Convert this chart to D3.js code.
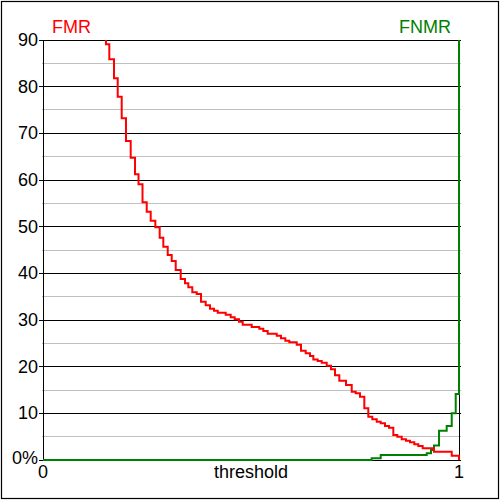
<!DOCTYPE html>
<html>
<head>
<meta charset="utf-8">
<script src="https://cdn.jsdelivr.net/npm/d3@7"></script>
<style>
  html, body { margin: 0; padding: 0; background: #fff; }
  svg { display: block; }
  text { font-family: "Liberation Sans", Arial, sans-serif; }
</style>
</head>
<body>
<svg id="chart" width="500" height="500"></svg>
<script>
// ---- data ----
const fmrThreshold = [0, 0.1514, 0.1594, 0.1707, 0.1796, 0.1892, 0.1995, 0.2108, 0.2212, 0.2296, 0.2392,
  0.2493, 0.2589, 0.2700, 0.2805, 0.2892, 0.2998, 0.3094, 0.3190, 0.3310, 0.3413, 0.3493, 0.3589, 0.3695,
  0.3798, 0.3911, 0.4014, 0.4111, 0.4200, 0.4392, 0.4512, 0.4608, 0.4712, 0.4800, 0.5017, 0.5200, 0.5296,
  0.5401, 0.5618, 0.5721, 0.5825, 0.5921, 0.6099, 0.6202, 0.6315, 0.6418, 0.6498, 0.6603, 0.6700, 0.6820,
  0.6923, 0.7019, 0.7123, 0.7284, 0.7421, 0.7517, 0.7620, 0.7724, 0.7820, 0.7916, 0.8022, 0.8118, 0.8221,
  0.8317, 0.8421, 0.8517, 0.8623, 0.8726, 0.8822, 0.8925, 0.9022, 0.9127, 0.9399, 0.9825, 1.0];
const fmrValues = [100, 89.08, 85.86, 81.79, 77.85, 73.22, 68.36, 64.78, 61.22, 59.08, 55.22,
  53.21, 51.28, 49.86, 47.64, 45.71, 43.93, 42.64, 40.71, 38.79, 37.86, 37.01, 35.94, 35.57,
  33.92, 33.15, 32.42, 31.99, 31.56, 31.14, 30.58, 30.15, 29.64, 28.99, 28.50, 28.14, 27.64,
  27.06, 26.64, 26.08, 25.56, 25.22, 24.71, 23.42, 22.86, 22.29, 21.54, 21.21, 20.85, 20.21,
  19.44, 18.15, 16.99, 16.07, 14.64, 14.29, 13.56, 11.08, 9.28, 8.72, 8.21, 7.86, 7.29,
  6.92, 5.36, 4.99, 4.44, 4.14, 3.79, 3.36, 3.00, 2.51, 1.78, 0.92, 0];

const fnmrThreshold = [0, 0.7901, 0.8118, 0.9224, 0.9327, 0.9399, 0.9519, 0.9704, 0.9825, 0.9921, 1.0];
const fnmrValues = [0, 0.36, 1.07, 1.44, 2.14, 3.11, 6.28, 7.29, 10.0, 14.14, 100];

const majorTicks = [0, 10, 20, 30, 40, 50, 60, 70, 80, 90];
const majorTickLabels = ["0%", "10", "20", "30", "40", "50", "60", "70", "80", "90"];
const minorTicks = [5, 15, 25, 35, 45, 55, 65, 75, 85];
const xTicks = [0, 1];
const xTickLabels = ["0", "1"];
const xTitle = "threshold";
const seriesNames = ["FMR", "FNMR"];

// ---- layout ----
const svg = d3.select("#chart");
const pLeft = 43, pRight = 459, pTop = 40, pBottom = 460;
const x = d3.scaleLinear().domain([0, 1]).range([pLeft, pRight]);
const y = d3.scaleLinear().domain([0, 90]).range([pBottom, pTop]);
const crisp = v => Math.floor(v) + 0.5;
const fs = 18;

// outer border
svg.append("rect").attr("x", 1.5).attr("y", 1.5).attr("width", 497).attr("height", 497)
  .attr("fill", "none").attr("stroke", "#000").attr("stroke-width", 1.2);

// minor grid
svg.append("g").selectAll("line").data(minorTicks).join("line")
  .attr("x1", pLeft - 1).attr("x2", pRight + 2)
  .attr("y1", d => crisp(y(d))).attr("y2", d => crisp(y(d)))
  .attr("stroke", "#c0c0c0").attr("stroke-width", 1);

// major grid
svg.append("g").selectAll("line").data(majorTicks).join("line")
  .attr("x1", pLeft - 4).attr("x2", pRight + 2)
  .attr("y1", d => crisp(y(d))).attr("y2", d => crisp(y(d)))
  .attr("stroke", "#000").attr("stroke-width", 1);

// frame sides
svg.append("line").attr("x1", crisp(pLeft)).attr("x2", crisp(pLeft))
  .attr("y1", pTop).attr("y2", pBottom + 1).attr("stroke", "#000");
svg.append("line").attr("x1", pRight + 0.5).attr("x2", pRight + 0.5)
  .attr("y1", pTop).attr("y2", pBottom + 1).attr("stroke", "#000");

// y labels
svg.append("g").selectAll("text").data(majorTicks).join("text")
  .attr("x", pLeft - 5)
  .attr("y", (d, i) => y(d) + (i === 0 ? -2 : 0))
  .attr("text-anchor", "end").attr("dominant-baseline", "central")
  .attr("font-size", fs).attr("fill", "#000")
  .text((d, i) => majorTickLabels[i]);

// x labels
svg.append("g").selectAll("text").data(xTicks).join("text")
  .attr("x", d => x(d)).attr("y", 478)
  .attr("text-anchor", "middle").attr("font-size", fs).attr("fill", "#000")
  .text((d, i) => xTickLabels[i]);
svg.append("text").attr("x", x(0.5)).attr("y", 478)
  .attr("text-anchor", "middle").attr("font-size", fs).attr("fill", "#000")
  .text(xTitle);

// series labels
svg.append("text").attr("x", 52).attr("y", 33).attr("font-size", fs)
  .attr("fill", "#ff0000").text(seriesNames[0]);
svg.append("text").attr("x", 451).attr("y", 33).attr("font-size", fs)
  .attr("text-anchor", "end").attr("fill", "#008000").text(seriesNames[1]);

// clip
svg.append("defs").append("clipPath").attr("id", "plotclip")
  .append("rect").attr("x", pLeft - 2).attr("y", pTop).attr("width", pRight - pLeft + 4).attr("height", pBottom - pTop + 2);

const line = d3.line().x(d => x(d[0])).y(d => y(d[1])).curve(d3.curveStepAfter);
const plot = svg.append("g").attr("clip-path", "url(#plotclip)");

plot.append("path")
  .datum(fnmrThreshold.map((t, i) => [t, fnmrValues[i]]))
  .attr("d", line).attr("fill", "none").attr("stroke", "#008000").attr("stroke-width", 2);

plot.append("path")
  .datum(fmrThreshold.map((t, i) => [t, fmrValues[i]]))
  .attr("d", line).attr("fill", "none").attr("stroke", "#ff0000").attr("stroke-width", 2);
</script>
</body>
</html>
